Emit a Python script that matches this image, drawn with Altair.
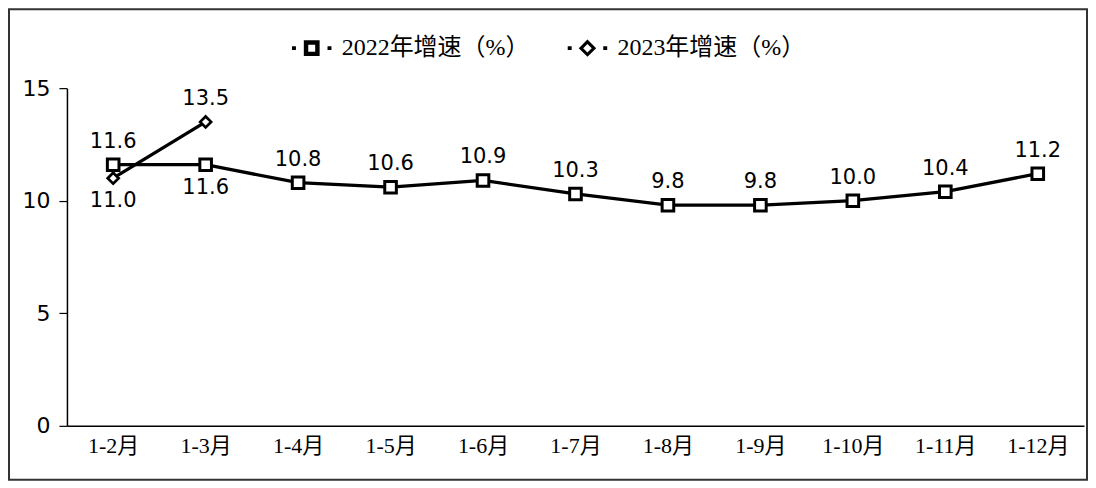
import altair as alt
import pandas as pd

months = ["1-2月", "1-3月", "1-4月", "1-5月", "1-6月", "1-7月", "1-8月", "1-9月", "1-10月", "1-11月", "1-12月"]
growth_2022 = [11.6, 11.6, 10.8, 10.6, 10.9, 10.3, 9.8, 9.8, 10.0, 10.4, 11.2]
growth_2023 = [11.0, 13.5]
side_2022 = ["above", "below", "above", "above", "above", "above", "above", "above", "above", "above", "above"]
side_2023 = ["below", "above"]
series_names = ["2022年增速（%）", "2023年增速（%）"]
y_ticks = [0, 5, 10, 15]

rows = []
for m, v, s in zip(months, growth_2022, side_2022):
    rows.append({"month": m, "value": v, "series": series_names[0], "side": s})
for m, v, s in zip(months, growth_2023, side_2023):
    rows.append({"month": m, "value": v, "series": series_names[1], "side": s})
df = pd.DataFrame(rows)

W, H = 1018, 338
SERIF = "Liberation Serif, Noto Sans CJK SC"
SANS = "DejaVu Sans"

x_enc = alt.X(
    "month:N",
    sort=months,
    scale=alt.Scale(type="point", domain=months, padding=0.5),
    axis=alt.Axis(title=None, labelAngle=0, ticks=False, domainColor="black", domainWidth=1.5,
                  labelFont=SERIF, labelFontSize=22, labelColor="black", labelPadding=10),
)
y_enc = alt.Y(
    "value:Q",
    scale=alt.Scale(domain=[0, 15], nice=False),
    axis=alt.Axis(title=None, values=y_ticks, grid=False, tickSize=8, tickColor="black", tickWidth=1.2,
                  domainColor="black", domainWidth=1.5, labelFont=SANS, labelFontSize=22,
                  labelColor="black", labelPadding=9),
)

base = alt.Chart(df)

lines = base.mark_line(color="black", strokeWidth=3.3).encode(x=x_enc, y=y_enc, detail="series:N")

pts22 = base.transform_filter(alt.datum.series == series_names[0]).mark_point(
    shape="square", size=135, filled=True, fill="white", stroke="black", strokeWidth=3, opacity=1
).encode(x=x_enc, y=y_enc)
pts23 = base.transform_filter(alt.datum.series == series_names[1]).mark_point(
    shape="diamond", size=120, filled=True, fill="white", stroke="black", strokeWidth=2.7, opacity=1
).encode(x=x_enc, y=y_enc)

lab_above = base.transform_filter(alt.datum.side == "above").mark_text(
    font=SANS, fontSize=21, dy=-23, baseline="middle", color="black"
).encode(x=x_enc, y=y_enc, text=alt.Text("value:Q", format=".1f"))
lab_below = base.transform_filter(alt.datum.side == "below").mark_text(
    font=SANS, fontSize=21, dy=23, baseline="middle", color="black"
).encode(x=x_enc, y=y_enc, text=alt.Text("value:Q", format=".1f"))

path_sq = ("M-1.25,-0.12H-1V0.12H-1.25Z M-0.5,-0.5H0.5V0.5H-0.5Z M-0.22,-0.22V0.22H0.22V-0.22Z "
           "M1,-0.12H1.25V0.12H1Z")
path_di = ("M-1.25,-0.12H-1V0.12H-1.25Z M0,-0.55L0.55,0L0,0.55L-0.55,0Z M0,-0.27L-0.27,0L0,0.27L0.27,0Z "
           "M1,-0.12H1.25V0.12H1Z")

legend_layer = base.transform_filter("false").mark_point(filled=True, color="black").encode(
    shape=alt.Shape(
        "series:N",
        scale=alt.Scale(domain=series_names, range=[path_sq, path_di]),
        legend=alt.Legend(
            title=None, orient="none", direction="horizontal", legendX=229, legendY=-56,
            symbolSize=1000, symbolFillColor="black", symbolStrokeColor="black", symbolStrokeWidth=0,
            symbolOpacity=1, labelFont=SERIF, labelFontSize=24, labelColor="black",
            labelOffset=14, columnPadding=38, labelLimit=400, padding=0,
        ),
    )
)

border = alt.Chart(alt.Data(values=[{"k": 1}])).mark_rect(
    filled=False, stroke="#333333", strokeWidth=2
).encode(x=alt.value(-58), x2=alt.value(W + 3), y=alt.value(-79), y2=alt.value(H + 54))

chart = alt.layer(border, lines, pts22, pts23, lab_above, lab_below, legend_layer).properties(
    width=W, height=H, padding=0, background="white"
).configure_view(stroke=None)

chart.save("out.html", embed_options={"renderer": "svg", "actions": False})
